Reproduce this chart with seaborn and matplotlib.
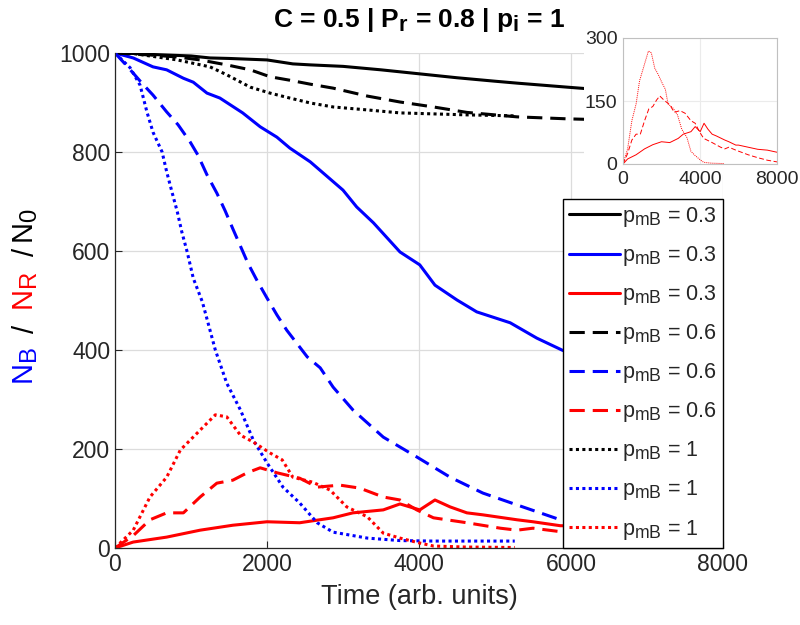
import matplotlib
matplotlib.use("Agg")
import matplotlib.pyplot as plt
import matplotlib._mathtext as mathtext_mod
from matplotlib.patches import Rectangle
import pandas as pd
import seaborn as sns

# Data (time in arb. units, populations)
t_k03 = [0, 250, 500, 1000, 1250, 1500, 2000, 2340, 2570, 3000, 3500, 4000, 4500, 5000, 5300, 5950, 6200]
n_k03 = [1000, 999, 997, 994, 990, 989, 986, 978, 976, 973, 966, 958, 950, 943, 939, 931, 928]

t_k06 = [0, 460, 820, 1120, 1470, 1780, 2040, 2300, 2570, 2870, 3320, 3750, 4190, 4630, 5290, 5950, 6200]
n_k06 = [1000, 996, 992, 986, 976, 966, 952, 945, 937, 929, 913, 901, 891, 880, 871, 867, 866]

t_k10 = [0, 240, 370, 820, 1250, 1470, 1780, 2040, 2300, 2570, 2870, 3320, 3750, 4190, 4630, 5260]
n_k10 = [1000, 999, 996, 986, 972, 956, 931, 919, 909, 899, 891, 885, 879, 877, 875, 873]

t_b03 = [0, 240, 500, 680, 900, 1030, 1210, 1380, 1680, 1910, 2130, 2300, 2570, 3000, 3180, 3400,
         3750, 4010, 4210, 4500, 4760, 5200, 5550, 5880, 6500, 7000, 7500, 8000]
n_b03 = [1000, 990, 972, 966, 949, 941, 919, 909, 879, 851, 830, 808, 780, 723, 689, 657,
         598, 572, 531, 501, 477, 455, 424, 400, 360, 330, 300, 275]

t_b06 = [0, 150, 355, 500, 680, 830, 990, 1090, 1210, 1340, 1450, 1550, 1650, 1750, 1870, 2000, 2130,
         2260, 2430, 2530, 2700, 2870, 3130, 3530, 3970, 4410, 4840, 5290, 5860, 6500, 7000, 7500, 8000]
n_b06 = [1000, 975, 939, 915, 881, 855, 820, 794, 754, 717, 681, 645, 610, 575, 540, 505, 471,
         440, 406, 386, 364, 325, 279, 224, 184, 143, 111, 87, 57, 40, 30, 24, 18]

t_b10 = [0, 200, 330, 420, 500, 620, 680, 750, 820, 880, 950, 1030, 1150, 1250, 1320, 1470, 1650,
         1820, 2000, 2210, 2430, 2660, 2870, 3320, 3750, 4190, 5260]
n_b10 = [1000, 970, 935, 881, 840, 800, 760, 719, 679, 638, 598, 545, 497, 440, 400, 333, 279,
         218, 172, 123, 91, 51, 32, 20, 15, 14, 14]

t_r03 = [0, 240, 680, 1120, 1550, 2000, 2430, 2870, 3130, 3530, 3750, 4010, 4210, 4410, 4630, 4840,
         5290, 5500, 5860, 6000, 6500, 7000, 7500, 8000]
n_r03 = [0, 12, 22, 36, 46, 53, 51, 61, 71, 77, 89, 77, 97, 83, 71, 67,
         57, 53, 45, 45, 40, 35, 33, 28]

t_r06 = [0, 240, 460, 680, 900, 1120, 1340, 1550, 1740, 1910, 2130, 2430, 2660, 2960, 3220, 3530,
         3750, 3970, 4190, 4630, 5070, 5290, 5500, 5860, 6500, 7000, 7500, 8000]
n_r06 = [0, 25, 57, 71, 71, 103, 131, 137, 152, 162, 152, 141, 123, 127, 121, 103,
         97, 77, 61, 51, 40, 36, 40, 33, 22, 15, 9, 5]

t_r10 = [0, 240, 460, 680, 860, 1080, 1320, 1470, 1650, 1820, 2040, 2200, 2340, 2600, 2830, 3050,
         3320, 3530, 3750, 4010, 4190, 4600, 5260]
n_r10 = [0, 36, 103, 143, 198, 232, 269, 265, 228, 214, 192, 178, 143, 133, 117, 83,
         63, 30, 20, 10, 4, 2, 1]

pmb_labels = ["0.3", "0.6", "1"]

sns.set_theme(style="whitegrid")
plt.rcParams["font.family"] = ["Liberation Sans", "DejaVu Sans"]
plt.rcParams["mathtext.fontset"] = "custom"
plt.rcParams["mathtext.rm"] = "Liberation Sans"
plt.rcParams["mathtext.it"] = "Liberation Sans:italic"
plt.rcParams["mathtext.bf"] = "Liberation Sans:bold"
# subscripts in the original are larger than mathtext's default
mathtext_mod.SHRINK_FACTOR = 0.82

dark = "#262626"
series = [
    (t_k03, n_k03, "black", "-", pmb_labels[0]),
    (t_b03, n_b03, "blue", "-", pmb_labels[0]),
    (t_r03, n_r03, "red", "-", pmb_labels[0]),
    (t_k06, n_k06, "black", "--", pmb_labels[1]),
    (t_b06, n_b06, "blue", "--", pmb_labels[1]),
    (t_r06, n_r06, "red", "--", pmb_labels[1]),
    (t_k10, n_k10, "black", ":", pmb_labels[2]),
    (t_b10, n_b10, "blue", ":", pmb_labels[2]),
    (t_r10, n_r10, "red", ":", pmb_labels[2]),
]
dash_map = {"-": (None, None), "--": (0, (5, 2.6)), ":": (0, (1, 1.1))}

fig = plt.figure(figsize=(8, 6.25), dpi=100)
ax = fig.add_axes([115 / 800, 77 / 625, 608 / 800, 495 / 625])

handles = []
for t, n, col, ls, lab in series:
    df = pd.DataFrame({"t": t, "n": n})
    sns.lineplot(data=df, x="t", y="n", ax=ax, color=col, linewidth=2.2,
                 estimator=None, sort=False)
    line = ax.lines[-1]
    if ls != "-":
        line.set_linestyle(dash_map[ls])
    line.set_label(r"$\mathrm{p_{mB}}$ = " + lab)
    handles.append(line)

ax.set_xlim(0, 8000)
ax.set_ylim(0, 1000)
ax.set_xticks(range(0, 8001, 2000))
ax.set_yticks(range(0, 1001, 200))
ax.grid(True, color="#dcdcdc", linewidth=0.9)
ax.set_axisbelow(True)
for s in ["top", "right"]:
    ax.spines[s].set_visible(False)
for s in ["left", "bottom"]:
    ax.spines[s].set_color(dark)
    ax.spines[s].set_linewidth(0.9)
ax.tick_params(direction="in", length=5, width=0.8, color=dark, labelcolor=dark,
               labelsize=16.5, left=True, bottom=True)
ax.set_xlabel("Time (arb. units)", fontsize=19.5, color=dark, labelpad=6)
ax.set_ylabel("")

leg = ax.legend(handles=handles, loc="lower right", bbox_to_anchor=(1.0, 0.0),
                borderaxespad=0, fontsize=15.5, handlelength=2.35, handletextpad=0.1,
                labelspacing=0.7, borderpad=0.3, fancybox=False, framealpha=1,
                edgecolor="black")
leg.get_frame().set_linewidth(1.0)

fig.text(419 / 800, 1 - 20 / 625,
         r"C = 0.5 | $\mathbf{P_r}$ = 0.8 | $\mathbf{p_i}$ = 1",
         ha="center", va="center", fontsize=19, fontweight="bold", color="black")

# multi-coloured y label
ylab = [(r"$\mathrm{N_B}$", "blue", 366), ("/", "black", 329), (r"$\mathrm{N_R}$", "red", 291),
        ("/", "black", 252), (r"$\mathrm{N_0}$", "black", 226)]
for txt, col, ypx in ylab:
    fig.text(26 / 800, 1 - ypx / 625, txt, rotation=90, ha="center", va="center",
             fontsize=21, color=col)

# white area behind the inset
fig.add_artist(Rectangle((584 / 800, 1 - 175 / 625), 216 / 800, 175 / 625,
                         transform=fig.transFigure, facecolor="white",
                         edgecolor="none", zorder=2))

ax_in = fig.add_axes([623 / 800, (625 - 164) / 625, 154 / 800, 126 / 625], zorder=3)
for t, n, col, ls, lab in series[2::3]:
    df = pd.DataFrame({"t": t, "n": n})
    sns.lineplot(data=df, x="t", y="n", ax=ax_in, color=col, linewidth=0.7,
                 estimator=None, sort=False)
    if ls != "-":
        ax_in.lines[-1].set_linestyle(dash_map[ls])
ax_in.set_xlim(0, 8000)
ax_in.set_ylim(0, 300)
ax_in.set_xticks([0, 4000, 8000])
ax_in.set_yticks([0, 150, 300])
ax_in.set_xlabel("")
ax_in.set_ylabel("")
ax_in.grid(True, color="#ebebeb", linewidth=0.8)
for s in ax_in.spines.values():
    s.set_color("#c0c0c0")
    s.set_linewidth(0.8)
ax_in.tick_params(direction="in", length=3, color="#c0c0c0", labelcolor=dark,
                  labelsize=14)
ax_in.tick_params(axis="x", pad=5)
ax_in.tick_params(axis="y", pad=4)

fig.savefig("out.png", dpi=100)
